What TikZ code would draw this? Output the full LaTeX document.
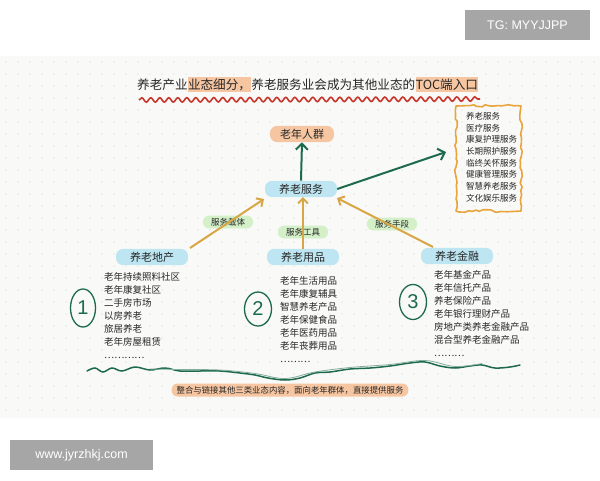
\documentclass[tikz,border=0pt]{standalone}
\usepackage{fontspec}
\setmainfont{Noto Sans CJK SC}
\newfontfamily\latinsans{Liberation Sans}
\usetikzlibrary{arrows.meta,decorations.pathmorphing,shapes.geometric}
\definecolor{paper}{HTML}{F9F9F7}
\definecolor{dotc}{HTML}{D6D6D6}
\definecolor{ink}{HTML}{262626}
\definecolor{hl}{HTML}{F6C6A2}
\definecolor{bluefill}{HTML}{BDE6F2}
\definecolor{greenfill}{HTML}{D4F0C8}
\definecolor{dgreen}{HTML}{1E6B4C}
\definecolor{tan}{HTML}{D9A646}
\definecolor{boxorange}{HTML}{E9A53C}
\definecolor{wavered}{HTML}{C8362B}
\definecolor{wm}{HTML}{A6A6A6}
\tikzset{
  txt/.style={text=ink, inner sep=0pt},
  bluenode/.style={fill=bluefill, rounded corners=7pt, text=ink, inner xsep=14pt, inner ysep=3pt, font=\fontsize{11}{12}\selectfont},
  orangenode/.style={fill=hl, rounded corners=7pt, text=ink, inner xsep=10pt, inner ysep=3pt, font=\fontsize{11}{12}\selectfont},
  greenlabel/.style={fill=greenfill, rounded corners=6pt, text=ink, inner xsep=8pt, inner ysep=2.5pt, font=\fontsize{8.5}{9}\selectfont},
  listtxt/.style={txt, anchor=north west, align=left, font=\fontsize{9.5}{13}\selectfont},
  boxtxt/.style={txt, anchor=north west, align=left, font=\fontsize{8.5}{11.7}\selectfont},
  garrow/.style={draw=dgreen, line width=2pt, -{Straight Barb[length=6pt,width=12pt,line width=2pt]}},
  tarrow/.style={draw=tan, line width=2pt, -{Straight Barb[length=5pt,width=10pt,line width=2pt]}},
  numcirc/.style={draw=dgreen, line width=1.3pt, ellipse, text=dgreen, inner sep=0pt, font=\latinsans\fontsize{20}{20}\selectfont},
  wmark/.style={fill=wm, text=white, font=\latinsans\fontsize{12.5}{13}\selectfont, inner xsep=9pt, inner ysep=8pt}
}
\begin{document}
\begin{tikzpicture}[x=1pt,y=-1pt]
\useasboundingbox (0,0) rectangle (600,480);
\fill[white] (0,0) rectangle (600,480);
\fill[paper] (0,56) rectangle (600,418);
\foreach \i in {0,...,49} {
  \foreach \j in {0,...,29} {
    \fill[dotc] (6+12*\i, 62+12*\j) circle (0.6);
  }
}
% watermarks
\node[wmark, minimum width=125pt, minimum height=30pt] (wm1) at (527.5,25) {TG: MYYJJPP};
\node[wmark, minimum width=143pt, minimum height=30pt] (wm2) at (81.5,455) {www.jyrzhkj.com};

% title
\begin{scope}[font=\fontsize{12.6}{14}\selectfont]
\node[txt, anchor=base west] (t1) at (137,89) {养老产业};
\node[txt, anchor=base west, fill=hl, inner ysep=1.5pt] (t2) at (t1.base east) {业态细分，};
\node[txt, anchor=base west] (t3) at (t2.base east) {养老服务业会成为其他业态的};
\node[txt, anchor=base west, fill=hl, inner ysep=1.5pt] (t4) at (t3.base east) {TOC端入口};
\end{scope}
\coordinate (w1) at (139,100);
\coordinate (w2) at (480,99);
\draw[wavered, line width=1.6pt, decorate, decoration={snake, segment length=9pt, amplitude=2.2pt}] (w1) -- (w2);

% central nodes
\node[orangenode] (crowd) at (302,134) {老年人群};
\node[bluenode] (svc) at (301,189) {养老服务};
\draw[garrow] (svc.north) -- (crowd.south);

% service list box
\node[boxtxt] (slist) at (466,112) {养老服务\\医疗服务\\康复护理服务\\长期照护服务\\临终关怀服务\\健康管理服务\\智慧养老服务\\文化娱乐服务};
\draw[boxorange, line width=1.6pt, line join=round, decorate, decoration={random steps, segment length=4pt, amplitude=1.3pt}]
  (456,106) rectangle (521,211);
\coordinate (boxl) at (446,152);
\draw[garrow] (svc.east) -- (boxl);

% bottom category nodes
\node[bluenode] (estate) at (152,257) {养老地产};
\node[bluenode] (goods) at (303,257) {养老用品};
\node[bluenode] (fin) at (457,256) {养老金融};

\node[greenlabel] (l1) at (228,222) {服务载体};
\node[greenlabel] (l2) at (303,232) {服务工具};
\node[greenlabel] (l3) at (392,224) {服务手段};

\coordinate (a1s) at (190,248);
\coordinate (a3s) at (433,247);
\coordinate (a1e) at (264,199);
\coordinate (a2e) at (303,197);
\coordinate (a3e) at (337,198);
\draw[tarrow] (a1s) -- (a1e);
\draw[tarrow] (goods.north) -- (a2e);
\draw[tarrow] (a3s) -- (a3e);

% lists
\node[listtxt] (list1) at (104,272) {老年持续照料社区\\老年康复社区\\二手房市场\\以房养老\\旅居养老\\老年房屋租赁\\…………};
\node[listtxt] (list2) at (280,276) {老年生活用品\\老年康复辅具\\智慧养老产品\\老年保健食品\\老年医药用品\\老年丧葬用品\\………};
\node[listtxt] (list3) at (434,270) {老年基金产品\\老年信托产品\\养老保险产品\\老年银行理财产品\\房地产类养老金融产品\\混合型养老金融产品\\………};

% circled numbers
\node[numcirc, minimum width=25pt, minimum height=38pt] (n1) at (83,308) {1};
\node[numcirc, minimum width=27pt, minimum height=34pt] (n2) at (258,309) {2};
\node[numcirc, minimum width=27pt, minimum height=35pt] (n3) at (413,302) {3};

% green wavy line
\draw[dgreen, line width=1.5pt, line cap=round] plot[smooth, tension=0.6] coordinates {
 (87,371) (95,368) (103,372) (112,368) (122,371) (135,367) (150,370) (165,368) (180,371) (200,371) (220,371) (240,373) (255,375) (268,378) (285,380) (300,378) (315,373) (330,372) (350,369) (370,368) (390,366) (410,363) (425,362) (440,366) (455,368) (470,366) (482,365) (495,368) (510,367) (520,365)};
\draw[dgreen!55, line width=0.8pt, line cap=round] plot[smooth, tension=0.6] coordinates {
 (150,369) (180,369.5) (220,370) (255,373.5) (285,378.5) (315,372) (350,367.5) (390,364.5) (425,360.5) (455,366.5) (482,363.5)};

% bottom highlighted text
\node[fill=hl, rounded corners=6pt, text=ink, inner xsep=5pt, inner ysep=2.5pt, font=\fontsize{8.4}{9}\selectfont] (summary) at (290,390) {整合与链接其他三类业态内容，面向老年群体，直接提供服务};
\end{tikzpicture}
\end{document}
